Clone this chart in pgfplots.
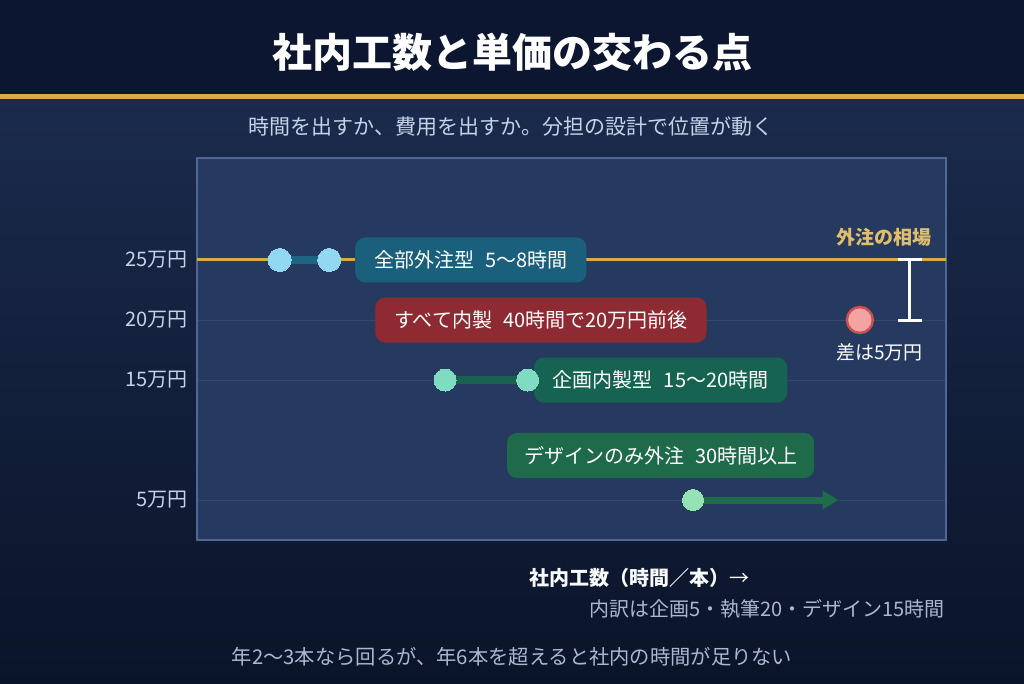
\documentclass[border=0pt]{standalone}
\usepackage{fontspec}
\setmainfont{Noto Sans CJK JP}
\usepackage{pgfplots}
\pgfplotsset{compat=1.18}
\usetikzlibrary{arrows.meta}

\definecolor{bandbg}{HTML}{0C1631}
\definecolor{gold}{HTML}{D8AB45}
\definecolor{goldtxt}{HTML}{E0BE6E}
\definecolor{bgtop}{HTML}{1B2B4D}
\definecolor{bgbot}{HTML}{0A1429}
\definecolor{plotbg}{HTML}{263A5F}
\definecolor{plotframe}{HTML}{4F6696}
\definecolor{gridc}{HTML}{33486D}
\definecolor{ticktxt}{HTML}{C5D2E8}
\definecolor{bluedot}{HTML}{93D8F2}
\definecolor{blueline}{HTML}{1C6684}
\definecolor{bluebox}{HTML}{1A5F7B}
\definecolor{redbox}{HTML}{8E2B32}
\definecolor{reddot}{HTML}{F4A3A3}
\definecolor{redring}{HTML}{C85050}
\definecolor{tealdot}{HTML}{7FDCC2}
\definecolor{tealline}{HTML}{1A6152}
\definecolor{tealbox}{HTML}{176352}
\definecolor{greendot}{HTML}{95E3B5}
\definecolor{greenline}{HTML}{1F6B4A}
\definecolor{greenbox}{HTML}{1E6A4A}
\definecolor{subtxt}{HTML}{AAB8CF}

\newcommand{\fs}[1]{\fontsize{#1}{#1}\selectfont}
\tikzset{boxlab/.style={rounded corners=10pt, text=white, font=\fs{20},
  inner xsep=19pt, inner ysep=0pt, minimum height=45pt}}

\begin{document}
\begin{tikzpicture}[x=1pt,y=1pt]
  \useasboundingbox (0,0) rectangle (1024,683);
  % background
  \shade[top color=bgtop, bottom color=bgbot] (0,0) rectangle (1024,589);
  \fill[bandbg] (0,589) rectangle (1024,683);
  \fill[gold] (0,584) rectangle (1024,589);
  \node[text=white, font=\fs{40}\bfseries] at (512,631) {社内工数と単価の交わる点};
  \node[text=ticktxt, font=\fs{21}] at (511,556) {時間を出すか、費用を出すか。分担の設計で位置が動く};

  \begin{axis}[
    at={(197pt,143pt)}, anchor=south west,
    scale only axis, width=749pt, height=382pt,
    xmin=0, xmax=45.3, ymin=1.667, ymax=33.5,
    xtick=\empty,
    ytick={5,15,20,25},
    yticklabels={5万円,15万円,20万円,25万円},
    yticklabel style={font=\fs{20}, text=ticktxt, xshift=-6pt},
    major tick length=0pt,
    ymajorgrids, grid style={gridc, line width=0.8pt},
    axis background/.style={fill=plotbg},
    axis line style={plotframe, line width=1.5pt},
    clip=false,
  ]
    % market rate line
    \addplot[gold, line width=3pt, forget plot] coordinates {(0,25) (45.3,25)};

    % 全部外注型
    \addplot[blueline, line width=8pt] coordinates {(5,25) (8,25)};
    \addplot[only marks, mark=*, mark size=11.5pt, color=bluedot,
      mark options={fill=bluedot, draw=bluedot, line width=0pt}] coordinates {(5,25) (8,25)};

    % 企画内製型
    \addplot[tealline, line width=8pt] coordinates {(15,15) (20,15)};
    \addplot[only marks, mark=*, mark size=11pt, color=tealdot,
      mark options={fill=tealdot, draw=tealdot, line width=0pt}] coordinates {(15,15) (20,15)};

    % デザインのみ外注
    \addplot[greenline, line width=7pt, -{Triangle[length=16pt,width=18pt]}]
      coordinates {(30,5) (38.8,5)};
    \addplot[only marks, mark=*, mark size=10.5pt, color=greendot,
      mark options={fill=greendot, draw=greendot, line width=0pt}] coordinates {(30,5)};

    % すべて内製
    \addplot[only marks, mark=*, mark size=13pt, color=redring,
      mark options={fill=reddot, draw=redring, line width=2.5pt}] coordinates {(40.09,20)};

    % gap bracket
    \addplot[white, line width=3pt] coordinates {(43.11,25) (43.11,20)};
    \addplot[white, line width=3pt] coordinates {(42.39,25) (43.83,25)};
    \addplot[white, line width=3pt] coordinates {(42.39,20) (43.83,20)};

    % labels
    \node[boxlab, fill=bluebox] at (axis cs:16.56,25) {全部外注型\hspace{0.55em}5〜8時間};
    \node[boxlab, fill=redbox] at (axis cs:20.8,20) {すべて内製\hspace{0.55em}40時間で20万円前後};
    \node[boxlab, fill=tealbox] at (axis cs:28.04,15) {企画内製型\hspace{0.55em}15〜20時間};
    \node[boxlab, fill=greenbox, inner xsep=17pt] at (axis cs:28.04,8.71) {デザインのみ外注\hspace{0.55em}30時間以上};
    \node[anchor=east, inner sep=0pt, text=goldtxt, font=\fs{19}\bfseries] at (axis cs:44.44,26.9) {外注の相場};
    \node[text=white, font=\fs{19}, inner sep=0pt] at (axis cs:41.27,17.33) {差は5万円};
  \end{axis}

  \node[text=white!88!ticktxt, font=\fs{20}] at (639,105) {\bfseries 社内工数（時間／本）\mdseries →};
  \node[anchor=east, inner sep=0pt, text=subtxt, font=\fs{20}] at (945,74) {内訳は企画5・執筆20・デザイン15時間};
  \node[text=subtxt, font=\fs{20.3}] at (512,26) {年2〜3本なら回るが、年6本を超えると社内の時間が足りない};
\end{tikzpicture}
\end{document}
